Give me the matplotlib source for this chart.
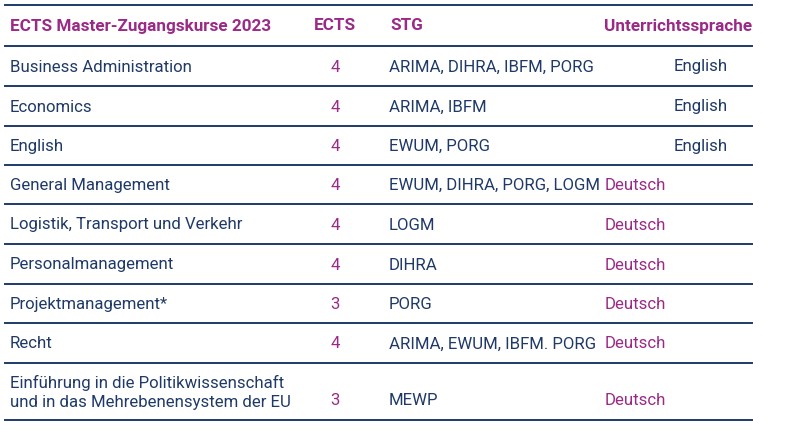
import matplotlib
matplotlib.use("Agg")
import matplotlib.pyplot as plt

headers = ["ECTS Master-Zugangskurse 2023", "ECTS", "STG", "Unterrichtssprache"]
courses = ["Business Administration", "Economics", "English", "General Management",
           "Logistik, Transport und Verkehr", "Personalmanagement", "Projektmanagement*",
           "Recht", "Einführung in die Politikwissenschaft\nund in das Mehrebenensystem der EU"]
ects = [4, 4, 4, 4, 4, 4, 3, 4, 3]
stg = ["ARIMA, DIHRA, IBFM, PORG", "ARIMA, IBFM", "EWUM, PORG", "EWUM, DIHRA, PORG, LOGM",
       "LOGM", "DIHRA", "PORG", "ARIMA, EWUM, IBFM. PORG", "MEWP"]
lang = ["English", "English", "English", "Deutsch", "Deutsch", "Deutsch", "Deutsch", "Deutsch", "Deutsch"]

purple = "#9B2A86"
navy = "#1F3A68"
line_c = "#1F3A68"
plt.rcParams["font.family"] = "Roboto"

fig = plt.figure(figsize=(7.91, 4.30), dpi=100)
ax = fig.add_axes([0, 0, 1, 1])
ax.set_xlim(0, 791); ax.set_ylim(430, 0); ax.axis("off")

lines_y = [5, 46, 86, 126, 165, 204, 244, 284, 323, 363, 420]
for y in lines_y:
    ax.plot([5, 752], [y, y], color=line_c, lw=1.4)

fs = 12.1
hfs = 12.3
ax.text(10, 26, headers[0], color=purple, fontsize=hfs, fontweight="bold", va="center")
ax.text(335, 26, headers[1], color=purple, fontsize=hfs, fontweight="bold", va="center", ha="center")
ax.text(390, 26, headers[2], color=purple, fontsize=hfs, fontweight="bold", va="center")
ax.text(604, 26, headers[3], color=purple, fontsize=hfs, fontweight="bold", va="center")

for i, (c, e, s, l) in enumerate(zip(courses, ects, stg, lang)):
    y0, y1 = lines_y[i + 1], lines_y[i + 2]
    ym = (y0 + y1) / 2 + 1
    ty = ym + 8 if i == len(courses) - 1 else ym
    ax.text(10, ym, c, color=navy, fontsize=fs, va="center", linespacing=1.35)
    ax.text(335, ty, str(e), color=purple, fontsize=fs, va="center", ha="center")
    ax.text(389, ty, s, color=navy, fontsize=fs, va="center")
    if l == "English":
        ax.text(674, ty, l, color=navy, fontsize=fs, va="center")
    else:
        ax.text(605, ty, l, color=purple, fontsize=fs, va="center")

fig.savefig("out.png", dpi=100, facecolor="white")
